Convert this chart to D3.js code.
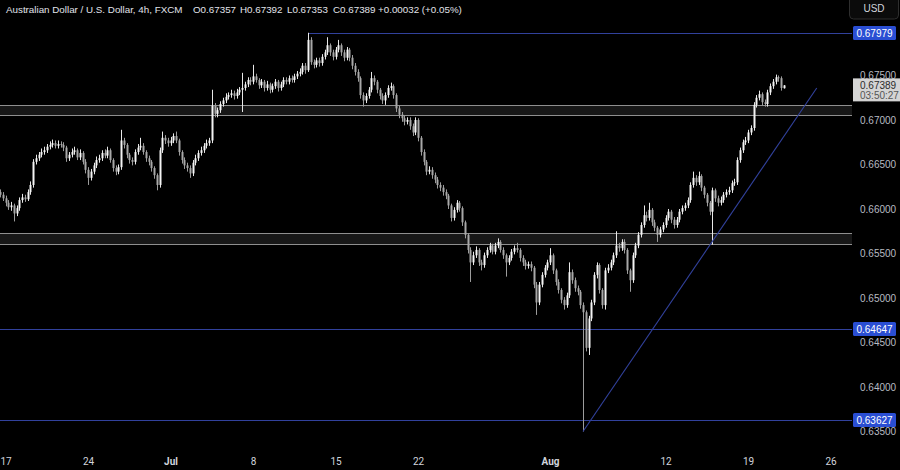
<!DOCTYPE html>
<html><head><meta charset="utf-8">
<script src="https://cdn.jsdelivr.net/npm/d3@7"></script>
<style>html,body{margin:0;padding:0;background:#000;overflow:hidden}svg{display:block}</style>
</head><body><svg id="c" width="900" height="470"></svg>
<script>
// ---- data (AUD/USD 4h, FXCM) ----
const firstBar = -2; // index of first 4h bar (0 = first bar of Mon Jun 17)
const opens = [0.6619,0.6616,
0.6612,0.6607,0.6602,0.6604,0.6595,0.6601,0.6610,0.6613,0.6611,0.6619,
0.6627,0.6653,0.6657,0.6661,0.6664,0.6666,0.6670,0.6672,0.6674,0.6671,
0.6673,0.6672,0.6669,0.6657,0.6661,0.6664,0.6666,0.6658,0.6663,0.6653,
0.6644,0.6635,0.6642,0.6649,0.6655,0.6657,0.6663,0.6660,0.6666,0.6655,
0.6646,0.6642,0.6647,0.6677,0.6672,0.6661,0.6655,0.6653,0.6664,0.6669,
0.6671,0.6664,0.6657,0.6653,0.6646,0.6638,0.6627,0.6666,0.6680,0.6677,
0.6674,0.6677,0.6682,0.6677,0.6664,0.6655,0.6649,0.6646,0.6640,0.6652,
0.6657,0.6663,0.6666,0.6671,0.6674,0.6677,0.6716,0.6707,0.6711,0.6718,
0.6722,0.6726,0.6728,0.6730,0.6727,0.6731,0.6734,0.6736,0.6740,0.6745,
0.6743,0.6749,0.6745,0.6739,0.6743,0.6736,0.6740,0.6734,0.6738,0.6743,
0.6736,0.6740,0.6745,0.6743,0.6747,0.6745,0.6749,0.6752,0.6754,0.6761,
0.6756,0.6790,0.6765,0.6762,0.6767,0.6764,0.6771,0.6776,0.6784,0.6776,
0.6771,0.6779,0.6784,0.6776,0.6770,0.6779,0.6770,0.6761,0.6754,0.6747,
0.6728,0.6722,0.6727,0.6734,0.6747,0.6743,0.6734,0.6727,0.6722,0.6728,
0.6736,0.6738,0.6728,0.6713,0.6706,0.6702,0.6698,0.6700,0.6693,0.6686,
0.6700,0.6680,0.6664,0.6653,0.6642,0.6644,0.6638,0.6633,0.6627,0.6624,
0.6619,0.6615,0.6604,0.6590,0.6599,0.6607,0.6601,0.6585,0.6571,0.6554,
0.6540,0.6548,0.6554,0.6540,0.6537,0.6548,0.6554,0.6559,0.6552,0.6559,
0.6563,0.6554,0.6548,0.6540,0.6545,0.6552,0.6556,0.6554,0.6545,0.6540,
0.6536,0.6538,0.6534,0.6515,0.6495,0.6515,0.6526,0.6534,0.6540,0.6548,
0.6531,0.6518,0.6509,0.6498,0.6492,0.6503,0.6529,0.6520,0.6511,0.6507,
0.6492,0.6484,0.6444,0.6477,0.6495,0.6526,0.6537,0.6509,0.6492,0.6531,
0.6534,0.6540,0.6548,0.6559,0.6556,0.6563,0.6554,0.6531,0.6520,0.6548,
0.6559,0.6571,0.6582,0.6593,0.6590,0.6599,0.6585,0.6579,0.6571,0.6577,
0.6582,0.6590,0.6597,0.6588,0.6582,0.6588,0.6597,0.6601,0.6604,0.6610,
0.6627,0.6635,0.6630,0.6637,0.6624,0.6616,0.6607,0.6597,0.6621,0.6612,
0.6607,0.6610,0.6616,0.6619,0.6621,0.6629,0.6630,0.6655,0.6666,0.6675,
0.6677,0.6686,0.6691,0.6717,0.6725,0.6729,0.6720,0.6718,0.6731,0.6738,
0.6743,0.6748,0.6747,0.67357];
const highs = [0.6622,0.6619,
0.6615,0.6610,0.6608,0.6606,0.6604,0.6613,0.6617,0.6616,0.6622,0.6631,
0.6656,0.6661,0.6664,0.6668,0.6670,0.6673,0.6676,0.6678,0.6677,0.6677,
0.6676,0.6675,0.6671,0.6664,0.6668,0.6670,0.6668,0.6667,0.6665,0.6656,
0.6647,0.6645,0.6652,0.6659,0.6661,0.6666,0.6667,0.6670,0.6668,0.6657,
0.6649,0.6650,0.6689,0.6680,0.6674,0.6663,0.6658,0.6667,0.6673,0.6680,
0.6674,0.6666,0.6660,0.6655,0.6648,0.6640,0.6669,0.6687,0.6683,0.6680,
0.6681,0.6685,0.6687,0.6679,0.6666,0.6658,0.6652,0.6649,0.6655,0.6661,
0.6666,0.6670,0.6674,0.6678,0.6680,0.6734,0.6719,0.6714,0.6721,0.6725,
0.6730,0.6731,0.6734,0.6733,0.6735,0.6737,0.6753,0.6743,0.6748,0.6748,
0.6762,0.6752,0.6747,0.6746,0.6745,0.6744,0.6742,0.6741,0.6746,0.6745,
0.6743,0.6748,0.6748,0.6750,0.6750,0.6752,0.6755,0.6758,0.6764,0.6764,
0.6798,0.6793,0.6768,0.6770,0.6770,0.6774,0.6779,0.6793,0.6786,0.6779,
0.6782,0.6790,0.6786,0.6779,0.6782,0.6781,0.6773,0.6764,0.6757,0.6749,
0.6731,0.6730,0.6737,0.6754,0.6750,0.6745,0.6736,0.6730,0.6731,0.6739,
0.6742,0.6740,0.6730,0.6716,0.6709,0.6705,0.6703,0.6703,0.6696,0.6703,
0.6702,0.6682,0.6667,0.6655,0.6648,0.6647,0.6641,0.6636,0.6630,0.6627,
0.6622,0.6617,0.6606,0.6602,0.6610,0.6609,0.6603,0.6587,0.6573,0.6557,
0.6552,0.6558,0.6556,0.6543,0.6551,0.6557,0.6562,0.6561,0.6562,0.6567,
0.6565,0.6557,0.6550,0.6548,0.6555,0.6559,0.6562,0.6556,0.6548,0.6543,
0.6541,0.6541,0.6536,0.6518,0.6518,0.6529,0.6537,0.6543,0.6556,0.6550,
0.6533,0.6521,0.6511,0.6501,0.6506,0.6540,0.6532,0.6523,0.6514,0.6509,
0.6495,0.6486,0.6480,0.6498,0.6529,0.6540,0.6539,0.6511,0.6534,0.6538,
0.6543,0.6551,0.6575,0.6562,0.6566,0.6566,0.6556,0.6533,0.6551,0.6562,
0.6574,0.6585,0.6604,0.6597,0.6607,0.6601,0.6588,0.6581,0.6580,0.6585,
0.6593,0.6600,0.6599,0.6591,0.6591,0.6600,0.6604,0.6607,0.6613,0.6630,
0.6642,0.6638,0.6642,0.6639,0.6626,0.6618,0.6609,0.6624,0.6623,0.6615,
0.6614,0.6619,0.6622,0.6625,0.6632,0.6634,0.6658,0.6669,0.6678,0.6681,
0.6689,0.6694,0.6720,0.6728,0.6733,0.6731,0.6723,0.6734,0.6741,0.6746,
0.6751,0.6750,0.6749,0.67392];
const lows = [0.6613,0.6609,
0.6603,0.6599,0.6598,0.6586,0.6592,0.6598,0.6607,0.6608,0.6609,0.6616,
0.6624,0.6650,0.6654,0.6658,0.6661,0.6663,0.6667,0.6669,0.6668,0.6668,
0.6669,0.6665,0.6653,0.6654,0.6658,0.6661,0.6655,0.6655,0.6650,0.6640,
0.6627,0.6632,0.6639,0.6646,0.6652,0.6654,0.6657,0.6657,0.6652,0.6642,
0.6638,0.6639,0.6644,0.6668,0.6657,0.6651,0.6649,0.6650,0.6661,0.6666,
0.6661,0.6653,0.6649,0.6642,0.6634,0.6621,0.6624,0.6663,0.6673,0.6670,
0.6671,0.6674,0.6674,0.6660,0.6651,0.6645,0.6642,0.6635,0.6637,0.6649,
0.6654,0.6660,0.6663,0.6668,0.6671,0.6674,0.6703,0.6703,0.6708,0.6715,
0.6719,0.6723,0.6725,0.6723,0.6724,0.6728,0.6709,0.6733,0.6737,0.6739,
0.6740,0.6742,0.6735,0.6736,0.6732,0.6733,0.6730,0.6731,0.6735,0.6732,
0.6733,0.6737,0.6740,0.6740,0.6742,0.6742,0.6746,0.6749,0.6751,0.6752,
0.6754,0.6762,0.6758,0.6759,0.6760,0.6761,0.6768,0.6773,0.6772,0.6767,
0.6768,0.6776,0.6772,0.6766,0.6767,0.6766,0.6757,0.6750,0.6743,0.6724,
0.6715,0.6719,0.6724,0.6731,0.6739,0.6730,0.6723,0.6718,0.6717,0.6725,
0.6733,0.6724,0.6709,0.6702,0.6698,0.6694,0.6695,0.6689,0.6682,0.6683,
0.6676,0.6660,0.6649,0.6638,0.6639,0.6634,0.6629,0.6623,0.6620,0.6615,
0.6611,0.6600,0.6586,0.6587,0.6596,0.6597,0.6581,0.6567,0.6550,0.6518,
0.6537,0.6545,0.6536,0.6531,0.6534,0.6545,0.6551,0.6549,0.6549,0.6556,
0.6551,0.6544,0.6524,0.6537,0.6542,0.6549,0.6551,0.6541,0.6536,0.6532,
0.6533,0.6530,0.6511,0.6481,0.6492,0.6512,0.6523,0.6531,0.6537,0.6527,
0.6514,0.6505,0.6494,0.6487,0.6489,0.6500,0.6516,0.6507,0.6503,0.6488,
0.6350,0.6440,0.6436,0.6474,0.6492,0.6522,0.6505,0.6488,0.6487,0.6528,
0.6531,0.6537,0.6545,0.6552,0.6553,0.6550,0.6527,0.6507,0.6517,0.6545,
0.6556,0.6568,0.6579,0.6586,0.6587,0.6581,0.6575,0.6563,0.6568,0.6574,
0.6579,0.6587,0.6584,0.6578,0.6579,0.6585,0.6594,0.6598,0.6601,0.6607,
0.6624,0.6626,0.6627,0.6620,0.6612,0.6603,0.6593,0.6560,0.6608,0.6603,
0.6604,0.6607,0.6613,0.6616,0.6618,0.6626,0.6627,0.6652,0.6663,0.6672,
0.6674,0.6683,0.6688,0.6714,0.6722,0.6716,0.6715,0.6715,0.6728,0.6735,
0.6740,0.6743,0.6733,0.67353];
const closes = [0.6616,0.6612,
0.6607,0.6602,0.6604,0.6595,0.6601,0.6610,0.6613,0.6611,0.6619,0.6627,
0.6653,0.6657,0.6661,0.6664,0.6666,0.6670,0.6672,0.6674,0.6671,0.6673,
0.6672,0.6669,0.6657,0.6661,0.6664,0.6666,0.6658,0.6663,0.6653,0.6644,
0.6635,0.6642,0.6649,0.6655,0.6657,0.6663,0.6660,0.6666,0.6655,0.6646,
0.6642,0.6647,0.6677,0.6672,0.6661,0.6655,0.6653,0.6664,0.6669,0.6671,
0.6664,0.6657,0.6653,0.6646,0.6638,0.6627,0.6666,0.6680,0.6677,0.6674,
0.6677,0.6682,0.6677,0.6664,0.6655,0.6649,0.6646,0.6640,0.6652,0.6657,
0.6663,0.6666,0.6671,0.6674,0.6677,0.6716,0.6707,0.6711,0.6718,0.6722,
0.6726,0.6728,0.6730,0.6727,0.6731,0.6734,0.6736,0.6740,0.6745,0.6743,
0.6749,0.6745,0.6739,0.6743,0.6736,0.6740,0.6734,0.6738,0.6743,0.6736,
0.6740,0.6745,0.6743,0.6747,0.6745,0.6749,0.6752,0.6754,0.6761,0.6756,
0.6790,0.6765,0.6762,0.6767,0.6764,0.6771,0.6776,0.6784,0.6776,0.6771,
0.6779,0.6784,0.6776,0.6770,0.6779,0.6770,0.6761,0.6754,0.6747,0.6728,
0.6722,0.6727,0.6734,0.6747,0.6743,0.6734,0.6727,0.6722,0.6728,0.6736,
0.6738,0.6728,0.6713,0.6706,0.6702,0.6698,0.6700,0.6693,0.6686,0.6700,
0.6680,0.6664,0.6653,0.6642,0.6644,0.6638,0.6633,0.6627,0.6624,0.6619,
0.6615,0.6604,0.6590,0.6599,0.6607,0.6601,0.6585,0.6571,0.6554,0.6540,
0.6548,0.6554,0.6540,0.6537,0.6548,0.6554,0.6559,0.6552,0.6559,0.6563,
0.6554,0.6548,0.6540,0.6545,0.6552,0.6556,0.6554,0.6545,0.6540,0.6536,
0.6538,0.6534,0.6515,0.6495,0.6515,0.6526,0.6534,0.6540,0.6548,0.6531,
0.6518,0.6509,0.6498,0.6492,0.6503,0.6529,0.6520,0.6511,0.6507,0.6492,
0.6484,0.6444,0.6477,0.6495,0.6526,0.6537,0.6509,0.6492,0.6531,0.6534,
0.6540,0.6548,0.6559,0.6556,0.6563,0.6554,0.6531,0.6520,0.6548,0.6559,
0.6571,0.6582,0.6593,0.6590,0.6599,0.6585,0.6579,0.6571,0.6577,0.6582,
0.6590,0.6597,0.6588,0.6582,0.6588,0.6597,0.6601,0.6604,0.6610,0.6627,
0.6635,0.6630,0.6637,0.6624,0.6616,0.6607,0.6597,0.6621,0.6612,0.6607,
0.6610,0.6616,0.6619,0.6621,0.6629,0.6630,0.6655,0.6666,0.6675,0.6677,
0.6686,0.6691,0.6717,0.6725,0.6729,0.6720,0.6718,0.6731,0.6738,0.6743,
0.6748,0.6747,0.6736,0.67389];

const dateTickLabels = ["17","24","Jul","8","15","22","Aug","12","19","26"];
const dateTickBars   = [0,30,60,90,120,150,198,240,270,300];
const boldTicks      = ["Jul","Aug"];
const priceTicks     = [0.635,0.640,0.645,0.650,0.655,0.660,0.665,0.670,0.675];
const blueLevels     = [0.67979,0.64647,0.63627];
const blueLevelStart = [110,-2,-2];
const zoneHigh       = [0.6717,0.6573];
const zoneLow        = [0.6706,0.6561];
const trendBars      = [210,295];
const trendPrices    = [0.6350,0.6736];
const headerParts    = ["Australian Dollar / U.S. Dollar, 4h, FXCM","O0.67357","H0.67392","L0.67353","C0.67389","+0.00032 (+0.05%)"];
const lastPrice      = 0.67389;
const countdown      = "03:50:27";
const currency       = "USD";

// ---- drawing ----
const W = 900, H = 470, plotRight = 852;
const svg = d3.select("#c");
svg.append("rect").attr("width",W).attr("height",H).attr("fill","#000");

const x = d3.scaleLinear().domain([0,300]).range([5.5,830.5]);
const y = d3.scaleLinear().domain([0.630674,0.683483]).range([H,0]);

const bars = closes.map((c,k)=>({i:k+firstBar,o:opens[k],h:highs[k],l:lows[k],c:c}));

// zones
const zg = svg.append("g");
zoneHigh.forEach((hv,k)=>{
  zg.append("rect").attr("x",0).attr("width",plotRight)
    .attr("y",Math.round(y(hv))+0.5).attr("height",Math.round(y(zoneLow[k]))-Math.round(y(hv)))
    .attr("fill","#171717");
  [hv,zoneLow[k]].forEach(v=>{
    zg.append("line").attr("x1",0).attr("x2",plotRight)
      .attr("y1",Math.round(y(v))+0.5).attr("y2",Math.round(y(v))+0.5)
      .attr("stroke","#8f8f8f").attr("stroke-width",1);
  });
});

// blue levels
blueLevels.forEach((v,k)=>{
  svg.append("line").attr("x1",x(blueLevelStart[k])).attr("x2",plotRight)
    .attr("y1",Math.round(y(v))+0.5).attr("y2",Math.round(y(v))+0.5)
    .attr("stroke","#31419c").attr("stroke-width",1);
});

// candles
const cg = svg.append("g");
cg.selectAll("line.w").data(bars).join("line").attr("class","w")
  .attr("x1",d=>Math.round(x(d.i))+0.5).attr("x2",d=>Math.round(x(d.i))+0.5)
  .attr("y1",d=>y(d.h)).attr("y2",d=>y(d.l))
  .attr("stroke",d=>d.c>=d.o?"#e8e8e8":"#9c9c9c").attr("stroke-width",1);
cg.selectAll("rect.b").data(bars).join("rect").attr("class","b")
  .attr("x",d=>Math.round(x(d.i))-0.5).attr("width",2)
  .attr("y",d=>y(Math.max(d.o,d.c)))
  .attr("height",d=>Math.max(1,Math.abs(y(d.o)-y(d.c))))
  .attr("fill",d=>d.c>=d.o?"#f4f4f4":"#a8a8a8");

// trend line
svg.append("line")
  .attr("x1",x(trendBars[0])).attr("y1",y(trendPrices[0]))
  .attr("x2",x(trendBars[1])).attr("y2",y(trendPrices[1]))
  .attr("stroke","#31419c").attr("stroke-width",1.1);

// right price axis
const ya = svg.append("g").attr("transform",`translate(${plotRight+5},0)`)
  .call(d3.axisRight(y).tickValues(priceTicks).tickSize(0).tickPadding(3).tickFormat(d3.format(".5f")));
ya.select(".domain").remove();
ya.selectAll("text").attr("fill","#b8bbc2").attr("font-family","Liberation Sans, Arial, sans-serif").attr("font-size","10px");

// blue level labels
blueLevels.forEach(v=>{
  const yy = Math.round(y(v));
  svg.append("rect").attr("x",853).attr("y",yy-7).attr("width",43).attr("height",14).attr("rx",1.5).attr("fill","#2a4ed3");
  svg.append("text").attr("x",874.5).attr("y",yy+3.5).attr("text-anchor","middle")
    .attr("fill","#fff").attr("font-family","Liberation Sans, Arial, sans-serif").attr("font-size","10px")
    .text(d3.format(".5f")(v));
});

// last price label
{
  const yy = y(lastPrice);
  svg.append("rect").attr("x",853).attr("y",yy-7).attr("width",47).attr("height",23).attr("fill","#d4d4d4");
  svg.append("text").attr("x",860).attr("y",yy+3.5).attr("fill","#2b2b2b")
    .attr("font-family","Liberation Sans, Arial, sans-serif").attr("font-size","10px").text(d3.format(".5f")(lastPrice));
  svg.append("text").attr("x",860).attr("y",yy+13.5).attr("fill","#555")
    .attr("font-family","Liberation Sans, Arial, sans-serif").attr("font-size","10px").text(countdown);
}

// bottom date axis
const xa = svg.append("g").attr("transform","translate(0,455)")
  .call(d3.axisBottom(x).tickValues(dateTickBars).tickSize(0).tickPadding(3)
        .tickFormat((d,k)=>dateTickLabels[k]));
xa.select(".domain").remove();
xa.selectAll("text").attr("fill","#d1d4dc").attr("font-family","Roboto, sans-serif").attr("font-size","10px")
  .attr("font-weight",(d,k)=>boldTicks.includes(dateTickLabels[k])?"bold":"normal");

// header
const hx = [6,193,240,287,333,378];
headerParts.forEach((t,k)=>{
  svg.append("text").attr("x",hx[k]).attr("y",13).attr("fill","#e0e3ea")
    .attr("font-family","Liberation Sans, Arial, sans-serif").attr("font-size","9.8px").text(t);
});

// currency button
svg.append("rect").attr("x",849.5).attr("y",-4).attr("width",49).attr("height",23).attr("rx",4)
  .attr("fill","#0b0b0b").attr("stroke","#2e2e2e");
svg.append("text").attr("x",874).attr("y",12).attr("text-anchor","middle").attr("fill","#d1d4dc")
  .attr("font-family","Liberation Sans, Arial, sans-serif").attr("font-size","10px").text(currency);
</script></body></html>
